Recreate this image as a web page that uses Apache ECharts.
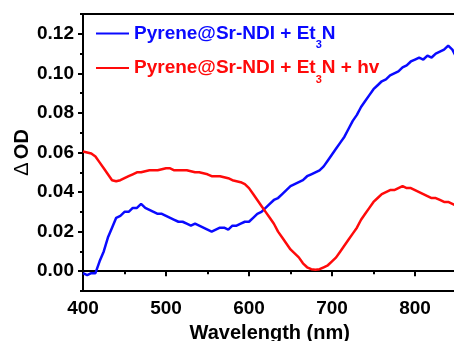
<!DOCTYPE html>
<html><head><meta charset="utf-8">
<script src="https://cdn.jsdelivr.net/npm/echarts@6/dist/echarts.min.js"></script>
<style>html,body{margin:0;padding:0;background:#fff}#c{width:454px;height:341px}</style>
</head><body><div id="c"></div>
<script>
const wavelengths = [400,405,410,415,420,425,430,435,440,445,450,455,460,465,470,475,480,485,490,495,500,505,510,515,520,525,530,535,540,545,550,555,560,565,570,575,580,585,590,595,600,605,610,615,620,625,630,635,640,645,650,655,660,665,670,675,680,685,690,695,700,705,710,715,720,725,730,735,740,745,750,755,760,765,770,775,780,785,790,795,800,805,810,815,820,825,830,835,840,845,850];
const darkValues = [-0.001,-0.002,-0.001,-0.001,0.005,0.010,0.017,0.022,0.027,0.028,0.030,0.030,0.032,0.032,0.034,0.032,0.031,0.030,0.029,0.029,0.028,0.027,0.026,0.025,0.025,0.024,0.023,0.024,0.023,0.022,0.021,0.020,0.021,0.022,0.022,0.021,0.023,0.023,0.024,0.025,0.025,0.027,0.029,0.030,0.032,0.034,0.036,0.037,0.039,0.041,0.043,0.044,0.045,0.046,0.048,0.049,0.050,0.051,0.053,0.056,0.059,0.062,0.065,0.068,0.072,0.076,0.079,0.083,0.086,0.089,0.092,0.094,0.096,0.097,0.099,0.100,0.101,0.103,0.104,0.106,0.107,0.108,0.107,0.109,0.108,0.110,0.111,0.112,0.114,0.112,0.108];
const lightValues = [0.0605,0.060,0.0595,0.058,0.055,0.052,0.049,0.046,0.0455,0.046,0.047,0.048,0.049,0.050,0.050,0.0505,0.051,0.051,0.051,0.0515,0.052,0.052,0.051,0.051,0.051,0.051,0.0505,0.050,0.050,0.0495,0.049,0.048,0.048,0.048,0.0475,0.047,0.046,0.0455,0.045,0.044,0.042,0.039,0.036,0.033,0.030,0.027,0.024,0.020,0.017,0.014,0.011,0.009,0.007,0.004,0.002,0.001,0.0008,0.001,0.002,0.003,0.005,0.007,0.010,0.013,0.016,0.019,0.022,0.026,0.029,0.032,0.035,0.037,0.039,0.040,0.041,0.041,0.042,0.043,0.042,0.042,0.041,0.040,0.039,0.038,0.037,0.037,0.036,0.035,0.035,0.034,0.033];
const yTickLabels = [0, 0.02, 0.04, 0.06, 0.08, 0.10, 0.12];
const seriesNames = ['Pyrene@Sr-NDI + Et3N', 'Pyrene@Sr-NDI + Et3N + hv'];

const blue = '#0a0aff', red = '#ff0a0a';
const font = 'Liberation Sans, Arial, sans-serif';
const chart = echarts.init(document.getElementById('c'));
chart.setOption({
  animation: false,
  grid: { left: 83, top: 14, width: 373.5, height: 277, show: true, borderColor: '#000', borderWidth: 2, containLabel: false, outerBoundsMode: 'none' },
  legend: {
    orient: 'vertical', left: 91, top: 19, itemGap: 8, itemWidth: 33, itemHeight: 2, icon: 'rect',
    data: seriesNames,
    formatter: function (name) {
      return name === seriesNames[0]
        ? '{b|Pyrene@Sr-NDI + Et}{bs|3}{b|N}'
        : '{r|Pyrene@Sr-NDI + Et}{rs|3}{r|N + hv}';
    },
    textStyle: {
      rich: {
        b: { color: blue, fontFamily: font, fontWeight: 'bold', fontSize: 19, lineHeight: 34 },
        bs: { color: blue, fontFamily: font, fontWeight: 'bold', fontSize: 11, lineHeight: 11, verticalAlign: 'bottom' },
        r: { color: red, fontFamily: font, fontWeight: 'bold', fontSize: 19, lineHeight: 34 },
        rs: { color: red, fontFamily: font, fontWeight: 'bold', fontSize: 11, lineHeight: 11, verticalAlign: 'bottom' }
      }
    }
  },
  xAxis: {
    type: 'value', min: 400, max: 850, interval: 100,
    name: 'Wavelength (nm)', nameLocation: 'middle', nameGap: 32, nameMoveOverlap: false,
    nameTextStyle: { fontFamily: font, fontWeight: 'bold', fontSize: 20, color: '#000' },
    axisLine: { lineStyle: { color: '#000', width: 2 } },
    axisTick: { inside: false, length: 5, lineStyle: { color: '#000', width: 2 } },
    minorTick: { show: true, splitNumber: 2, length: 3, lineStyle: { color: '#000', width: 2 } },
    axisLabel: { margin: 8, fontFamily: font, fontWeight: 'bold', fontSize: 19, color: '#000', showMaxLabel: false },
    splitLine: { show: false }
  },
  yAxis: [{
    type: 'value', min: -0.01, max: 0.13, interval: 0.01,
    name: '{d|\u0394} {o|OD}', nameLocation: 'middle', nameGap: 51, nameRotate: 90, nameMoveOverlap: false,
    nameTextStyle: { rich: {
      d: { fontFamily: font, fontSize: 20, color: '#000' },
      o: { fontFamily: font, fontWeight: 'bold', fontSize: 20, color: '#000' }
    } },
    axisLine: { lineStyle: { color: '#000', width: 2 } },
    axisTick: { length: 3, lineStyle: { color: '#000', width: 2 } },
    axisLabel: {
      margin: 9, fontFamily: font, fontWeight: 'bold', fontSize: 19, color: '#000',
      formatter: function (v) {
        const k = Math.round(v * 100);
        return (k >= 0 && k <= 12 && k % 2 === 0) ? (k / 100).toFixed(2) : '';
      }
    },
    splitLine: { show: false }
  }, {
    type: 'value', min: -0.01, max: 0.13, position: 'left',
    axisLine: { show: false },
    axisTick: { show: true, length: 5, customValues: yTickLabels, lineStyle: { color: '#000', width: 2 } },
    axisLabel: { show: false },
    splitLine: { show: false }
  }],
  series: [{
    name: seriesNames[0], type: 'line', showSymbol: false, symbol: 'none',
    data: wavelengths.map((w, i) => [w, darkValues[i]]),
    lineStyle: { color: blue, width: 2.5 }, itemStyle: { color: blue }
  }, {
    name: seriesNames[1], type: 'line', showSymbol: false, symbol: 'none',
    data: wavelengths.map((w, i) => [w, lightValues[i]]),
    lineStyle: { color: red, width: 2.5 }, itemStyle: { color: red }
  }]
});
</script></body></html>
